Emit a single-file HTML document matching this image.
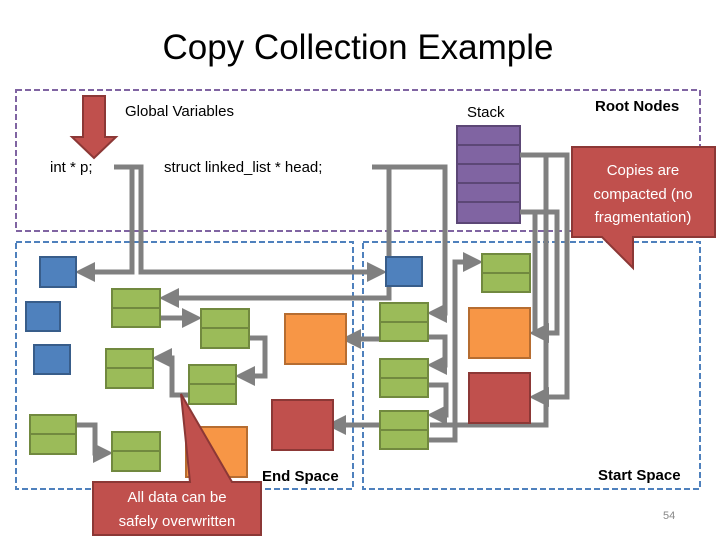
<!DOCTYPE html>
<html><head><meta charset="utf-8"><style>
html,body{margin:0;padding:0;background:#fff;}
svg{display:block;font-family:"Liberation Sans",sans-serif;}
</style></head><body>
<svg width="720" height="540" viewBox="0 0 720 540" xmlns="http://www.w3.org/2000/svg">
<defs>
<marker id="a" markerWidth="4" markerHeight="4" refX="2.2" refY="2" orient="auto" markerUnits="strokeWidth">
<path d="M0,0 L4,2 L0,4 z" fill="#808080"/></marker>
</defs>
<text x="358" y="59" font-size="35" text-anchor="middle" fill="#000">Copy Collection Example</text>
<!-- regions -->
<rect x="16" y="90" width="684" height="141" fill="none" stroke="#8064a2" stroke-width="2" stroke-dasharray="6,3"/>
<rect x="16" y="242" width="337" height="247" fill="none" stroke="#4f81bd" stroke-width="2" stroke-dasharray="6,3"/>
<rect x="363" y="242" width="337" height="247" fill="none" stroke="#4f81bd" stroke-width="2" stroke-dasharray="6,3"/>
<!-- red arrow -->
<path d="M83,96 H105 V137 H116 L94,158 L72,137 H83 Z" fill="#c0504d" stroke="#8c3836" stroke-width="2"/>
<text x="125" y="116" font-size="15">Global Variables</text>
<text x="50" y="172" font-size="15">int * p;</text>
<text x="164" y="172" font-size="15">struct linked_list * head;</text>
<text x="467" y="117" font-size="15">Stack</text>
<text x="595" y="111" font-size="15" font-weight="bold">Root Nodes</text>
<!-- stack -->
<g fill="#8064a2" stroke="#5c4776" stroke-width="2">
<rect x="457" y="126" width="63" height="19"/><rect x="457" y="145" width="63" height="19"/><rect x="457" y="164" width="63" height="19"/><rect x="457" y="183" width="63" height="19"/><rect x="457" y="202" width="63" height="21"/>
</g>
<!-- connectors -->
<g fill="none" stroke="#808080" stroke-width="5">
<path d="M114,167 H132 V272 H84" marker-end="url(#a)"/>
<path d="M132,167 H141 V272 H378" marker-end="url(#a)"/>
<path d="M372,167 H445 V313 H436" marker-end="url(#a)"/>
<path d="M389,167 V298 H168" marker-end="url(#a)"/>
<path d="M160,318 H193" marker-end="url(#a)"/>
<path d="M249,338 H265 V376 H244" marker-end="url(#a)"/>
<path d="M188,395 H172 V358 H161" marker-end="url(#a)"/>
<path d="M76,425 H95 V453 H104" marker-end="url(#a)"/>
<path d="M353,339 H380" />
<path d="M428,339 H350" marker-end="url(#a)"/>
<path d="M428,425 H335" marker-end="url(#a)"/>
<path d="M428,337 H445 V365 H436" marker-end="url(#a)"/>
<path d="M428,385 H446 V415 H436" marker-end="url(#a)"/>
<path d="M428,440 H455 V262 H474" marker-end="url(#a)"/>
<path d="M520,155 H567 V397 H538" marker-end="url(#a)"/>
<path d="M520,212 H557 V333 H538" marker-end="url(#a)"/>
<path d="M546,155 V425 H430"/>
<path d="M535,212 V333"/>
</g>
<!-- end space nodes -->
<g fill="#4f81bd" stroke="#385d8a" stroke-width="2">
<rect x="40" y="257" width="36" height="30"/><rect x="26" y="302" width="34" height="29"/><rect x="34" y="345" width="36" height="29"/>
<rect x="386" y="257" width="36" height="29"/>
</g>
<g fill="#9bbb59" stroke="#71893f" stroke-width="2">
<rect x="112" y="289" width="48" height="19"/><rect x="112" y="308" width="48" height="19"/>
<rect x="201" y="309" width="48" height="19"/><rect x="201" y="328" width="48" height="20"/>
<rect x="106" y="349" width="47" height="19"/><rect x="106" y="368" width="47" height="20"/>
<rect x="189" y="365" width="47" height="19"/><rect x="189" y="384" width="47" height="20"/>
<rect x="30" y="415" width="46" height="19"/><rect x="30" y="434" width="46" height="20"/>
<rect x="112" y="432" width="48" height="19"/><rect x="112" y="451" width="48" height="20"/>
<rect x="482" y="254" width="48" height="19"/><rect x="482" y="273" width="48" height="19"/>
<rect x="380" y="303" width="48" height="19"/><rect x="380" y="322" width="48" height="19"/>
<rect x="380" y="359" width="48" height="19"/><rect x="380" y="378" width="48" height="19"/>
<rect x="380" y="411" width="48" height="19"/><rect x="380" y="430" width="48" height="19"/>
</g>
<g fill="#f79646" stroke="#b66d31" stroke-width="2">
<rect x="285" y="314" width="61" height="50"/><rect x="186" y="427" width="61" height="50"/><rect x="469" y="308" width="61" height="50"/>
</g>
<g fill="#c0504d" stroke="#8c3836" stroke-width="2">
<rect x="272" y="400" width="61" height="50"/><rect x="469" y="373" width="61" height="50"/>
</g>
<text x="262" y="481" font-size="15" font-weight="bold">End Space</text>
<text x="598" y="480" font-size="15" font-weight="bold">Start Space</text>
<!-- callouts -->
<path d="M93,482 H190 L181,394 L232,482 H261 V535 H93 Z" fill="#c0504d" stroke="#8c3836" stroke-width="2"/>
<text x="177" y="502" font-size="15" fill="#fff" text-anchor="middle">All data can be</text>
<text x="177" y="526" font-size="15" fill="#fff" text-anchor="middle">safely overwritten</text>
<path d="M572,147 H715 V237 H633 V268 L602,237 H572 Z" fill="#c0504d" stroke="#8c3836" stroke-width="2"/>
<text x="643" y="175" font-size="15" fill="#fff" text-anchor="middle">Copies are</text>
<text x="643" y="199" font-size="15" fill="#fff" text-anchor="middle">compacted (no</text>
<text x="643" y="222" font-size="15" fill="#fff" text-anchor="middle">fragmentation)</text>
<text x="663" y="519" font-size="11" fill="#888">54</text>
</svg>
</body></html>
